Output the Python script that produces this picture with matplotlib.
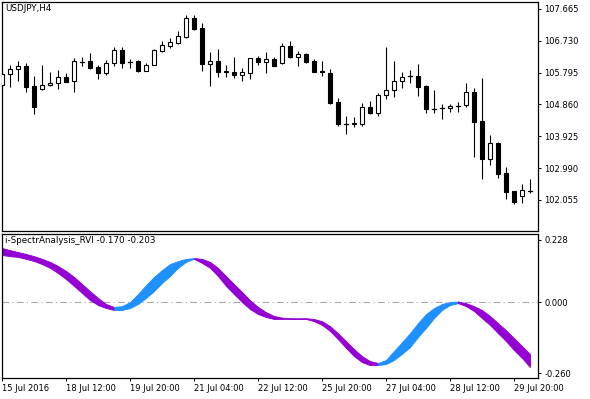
import matplotlib

matplotlib.use("Agg")

import matplotlib.pyplot as plt
from matplotlib.patches import Rectangle


SYMBOL_LABEL = "USDJPY,H4"
INDICATOR_LABEL = "i-SpectrAnalysis_RVI -0.170 -0.203"

# H4 candles, one per bar index
OPEN = [105.43, 105.75, 105.90, 105.99, 105.40, 105.31, 105.43, 105.49, 105.67, 105.55,
        106.11, 106.14, 105.96, 105.78, 106.08, 106.46, 106.11, 106.14, 105.84, 106.02,
        106.43, 106.58, 106.67, 106.84, 107.40, 107.11, 106.05, 106.14, 105.84, 105.81,
        105.72, 105.78, 106.22, 106.11, 106.20, 106.08, 106.58, 106.25, 106.34, 106.14,
        105.84, 105.78, 104.93, 104.28, 104.28, 104.28, 104.78, 104.61, 105.14, 105.28,
        105.55, 105.69, 105.70, 105.40, 104.73, 104.75, 104.75, 104.81, 104.84, 105.23,
        104.37, 103.26, 103.73, 102.84, 102.31, 102.17, 102.31]
HIGH = [105.81, 106.02, 106.14, 106.08, 105.70, 106.02, 105.81, 105.87, 105.78, 106.22,
        106.25, 106.37, 106.02, 106.17, 106.55, 106.55, 106.20, 106.17, 106.08, 106.49,
        106.72, 106.81, 107.02, 107.49, 107.49, 107.25, 106.40, 106.49, 106.02, 106.25,
        105.93, 106.22, 106.28, 106.40, 106.25, 106.67, 106.72, 106.43, 106.37, 106.20,
        106.14, 105.90, 105.05, 104.52, 104.49, 104.90, 104.96, 105.20, 106.55, 106.14,
        105.81, 105.87, 106.05, 105.43, 105.28, 104.87, 104.87, 104.93, 105.49, 105.34,
        105.64, 103.96, 103.76, 103.02, 102.31, 102.52, 102.67]
LOW = [105.37, 105.37, 105.55, 105.23, 104.58, 105.28, 105.40, 105.31, 105.52, 105.23,
       105.99, 105.90, 105.61, 105.72, 105.99, 105.93, 105.93, 105.81, 105.84, 106.02,
       106.40, 106.52, 106.64, 106.81, 107.05, 105.84, 105.40, 105.67, 105.67, 105.64,
       105.55, 105.61, 106.02, 105.78, 105.99, 106.05, 106.22, 105.99, 106.08, 105.81,
       105.70, 104.87, 104.23, 103.99, 104.20, 104.23, 104.58, 104.52, 105.02, 105.08,
       105.34, 105.49, 105.11, 104.61, 104.61, 104.43, 104.64, 104.64, 104.78, 103.31,
       102.67, 103.08, 102.70, 102.08, 101.93, 101.96, 102.26]
CLOSE = [105.75, 105.90, 105.99, 105.37, 104.78, 105.43, 105.49, 105.67, 105.52, 106.14,
         106.12, 105.93, 105.78, 106.08, 106.46, 106.08, 106.10, 105.84, 106.02, 106.46,
         106.61, 106.70, 106.87, 107.40, 107.08, 106.05, 106.14, 105.81, 105.81, 105.72,
         105.81, 106.22, 106.11, 106.20, 105.99, 106.58, 106.25, 106.34, 106.11, 105.81,
         105.81, 104.90, 104.28, 104.27, 104.31, 104.78, 104.61, 105.14, 105.28, 105.55,
         105.67, 105.70, 105.37, 104.73, 104.72, 104.76, 104.81, 104.82, 105.23, 104.34,
         103.26, 103.73, 102.81, 102.28, 101.99, 102.34, 102.32]

# indicator band: the two RVI lines
RVI_UPPER = [0.198, 0.190, 0.183, 0.176, 0.168, 0.158, 0.147, 0.132, 0.114, 0.092,
             0.066, 0.040, 0.015, -0.007, -0.018, -0.015, 0.000, 0.029, 0.062, 0.092,
             0.117, 0.139, 0.150, 0.158, 0.161, 0.158, 0.147, 0.125, 0.095, 0.066,
             0.037, 0.007, -0.018, -0.037, -0.051, -0.057, -0.059, -0.060, -0.059, -0.062,
             -0.070, -0.088, -0.114, -0.143, -0.172, -0.198, -0.216, -0.223, -0.212, -0.179,
             -0.147, -0.114, -0.077, -0.044, -0.022, -0.007, 0.000, 0.002, -0.004, -0.015,
             -0.029, -0.051, -0.077, -0.103, -0.132, -0.161, -0.190]
RVI_LOWER = [0.172, 0.168, 0.165, 0.158, 0.150, 0.139, 0.125, 0.106, 0.084, 0.059,
             0.033, 0.007, -0.011, -0.022, -0.029, -0.029, -0.022, -0.007, 0.015, 0.040,
             0.070, 0.095, 0.125, 0.147, 0.158, 0.143, 0.125, 0.095, 0.059, 0.029,
             0.000, -0.026, -0.044, -0.055, -0.062, -0.062, -0.062, -0.061, -0.062, -0.070,
             -0.084, -0.106, -0.136, -0.168, -0.198, -0.220, -0.231, -0.231, -0.227, -0.212,
             -0.190, -0.165, -0.128, -0.095, -0.059, -0.029, -0.011, -0.004, -0.015, -0.033,
             -0.059, -0.084, -0.114, -0.143, -0.176, -0.205, -0.238]

PRICE_TICKS = [107.665, 106.730, 105.795, 104.860, 103.925, 102.990, 102.055]
RVI_TICKS = [0.228, 0.000, -0.260]
TIME_TICKS = [0, 8, 16, 24, 32, 40, 48, 56, 64]
TIME_LABELS = ["15 Jul 2016", "18 Jul 12:00", "19 Jul 20:00", "21 Jul 04:00", "22 Jul 12:00",
               "25 Jul 20:00", "27 Jul 04:00", "28 Jul 12:00", "29 Jul 20:00"]

UP_COLOR = "#1e90ff"
DOWN_COLOR = "#9400d3"
W, H = 590, 399


def style_axis(ax):
    for side in ax.spines:
        ax.spines[side].set_linewidth(0.9)
        ax.spines[side].set_color("black")
    ax.yaxis.tick_right()
    ax.tick_params(axis="y", direction="out", length=2.5, width=0.7, pad=2, labelsize=6)
    ax.set_xlim(0, 67)


def draw_candles(ax):
    body_w = 0.6
    for i, (o, h, l, c) in enumerate(zip(OPEN, HIGH, LOW, CLOSE)):
        ax.plot([i, i], [l, h], color="black", linewidth=0.8, solid_capstyle="butt", zorder=2)
        lo, hi = min(o, c), max(o, c)
        if hi - lo < 0.015:
            ax.plot([i - body_w / 2, i + body_w / 2], [c, c], color="black", linewidth=0.9, zorder=3)
            continue
        face = "white" if c > o else "black"
        ax.add_patch(Rectangle((i - body_w / 2, lo), body_w, hi - lo, facecolor=face,
                               edgecolor="black", linewidth=0.8, zorder=3))


def main():
    fig = plt.figure(figsize=(W / 100, H / 100), dpi=100)
    plt.rcParams["font.family"] = ["DejaVu Sans"]

    ax = fig.add_axes([2 / W, 1 - 231 / H, 536 / W, 229 / H])
    style_axis(ax)
    draw_candles(ax)
    ax.set_ylim(101.14, 107.87)
    ax.set_yticks(PRICE_TICKS)
    ax.set_yticklabels([f"{t:.3f}" for t in PRICE_TICKS])
    ax.set_xticks([])
    ax.text(0.006, 0.992, SYMBOL_LABEL, transform=ax.transAxes, fontsize=6.3, va="top", ha="left")

    ax2 = fig.add_axes([2 / W, 1 - 378 / H, 536 / W, 144 / H])
    style_axis(ax2)
    ax2.axhline(0, color="#a8a8a8", linewidth=0.8, linestyle=(0, (6, 3, 1, 3)), zorder=1)
    mid = [(a + b) / 2 for a, b in zip(RVI_UPPER, RVI_LOWER)]
    for i in range(len(mid) - 1):
        color = UP_COLOR if mid[i + 1] > mid[i] else DOWN_COLOR
        ax2.fill_between([i, i + 1], [RVI_LOWER[i], RVI_LOWER[i + 1]], [RVI_UPPER[i], RVI_UPPER[i + 1]],
                         color=color, linewidth=0.6, edgecolor=color, zorder=2)
    ax2.set_ylim(-0.278, 0.249)
    ax2.set_yticks(RVI_TICKS)
    ax2.set_yticklabels([f"{t:.3f}" for t in RVI_TICKS])
    ax2.set_xticks(TIME_TICKS)
    ax2.set_xticklabels(TIME_LABELS, ha="left")
    ax2.tick_params(axis="x", direction="out", length=2.5, width=0.7, pad=2, labelsize=6)
    ax2.text(0.006, 0.985, INDICATOR_LABEL, transform=ax2.transAxes, fontsize=6.3, va="top", ha="left")

    fig.savefig("out.png", dpi=100)
    plt.close(fig)


if __name__ == "__main__":
    main()
